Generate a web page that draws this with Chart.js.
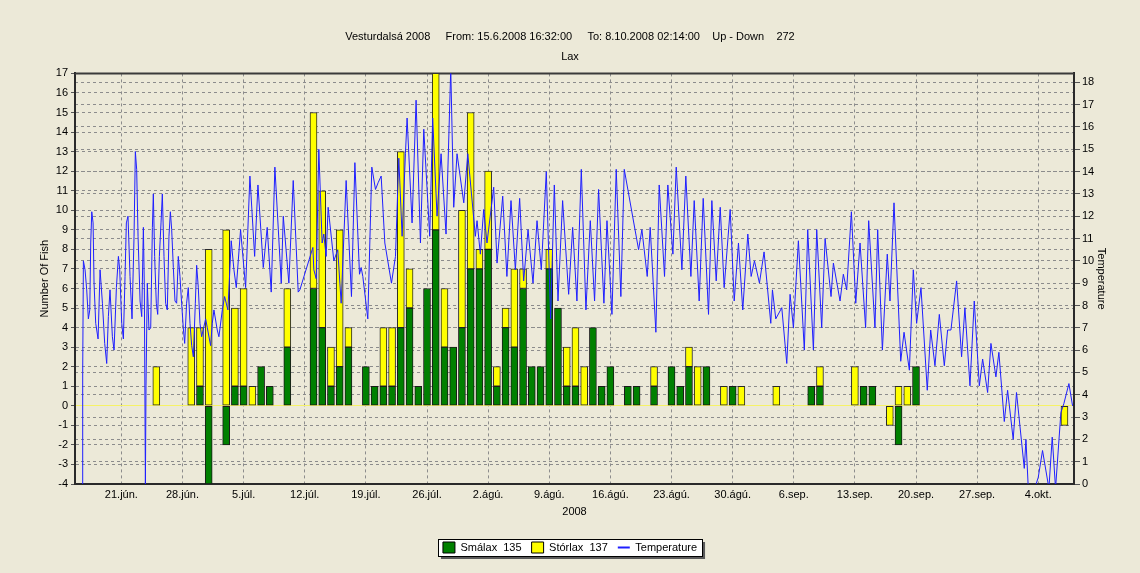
<!DOCTYPE html>
<html>
<head>
<meta charset="utf-8">
<script src="https://cdn.jsdelivr.net/npm/chart.js@4.4.1/dist/chart.umd.min.js"></script>
<style>
  html, body { margin: 0; padding: 0; background: #ece9d8; }
</style>
</head>
<body>
<canvas id="graficoLax" width="1140" height="573"></canvas>
<script>
// Veiði eftir dögum (dagur.mánuður 2008), neikvætt = niður
const fishDate = ["25.6","29.6","30.6","1.7","3.7","4.7","5.7","6.7","7.7","8.7","10.7","13.7","14.7","15.7","16.7","17.7","19.7","20.7","21.7","22.7","23.7","24.7","25.7","26.7","27.7","28.7","29.7","30.7","31.7","1.8","2.8","3.8","4.8","5.8","6.8","7.8","8.8","9.8","10.8","11.8","12.8","13.8","14.8","15.8","16.8","18.8","19.8","21.8","23.8","24.8","25.8","26.8","27.8","29.8","30.8","31.8","4.9","8.9","9.9","13.9","14.9","15.9","17.9","18.9","19.9","20.9","7.10"];
const smalax  = [0,0,1,-4,-2,1,1,0,2,1,3,6,4,1,2,3,2,1,1,1,4,5,1,6,9,3,3,4,7,7,8,1,4,3,6,2,2,7,5,1,1,0,4,1,2,1,1,1,2,1,2,0,2,0,1,0,0,1,1,0,1,1,0,-2,0,2,0];
const storlax = [2,4,3,8,9,4,5,1,0,0,3,9,7,2,7,1,0,0,3,3,9,2,0,0,8,3,0,6,8,1,4,1,1,4,1,0,0,1,0,2,3,2,0,0,0,0,0,1,0,0,1,2,0,1,0,1,1,0,1,2,0,0,-1,1,1,0,-1];

// Hitastig: dagar frá 15.6.2008 00:00 og gráður
const tempDay = [1.54,1.57,1.65,1.84,2.03,2.22,2.38,2.49,2.61,2.76,2.87,3.06,3.33,3.56,3.83,4.09,4.32,4.51,4.70,4.97,5.16,5.43,5.66,5.81,6.04,6.23,6.42,6.57,6.76,6.99,7.22,7.45,7.60,7.75,7.91,8.14,8.33,8.52,8.63,8.75,8.82,8.97,9.16,9.36,9.55,9.66,9.81,10.00,10.16,10.35,10.54,10.69,10.88,11.07,11.26,11.45,11.61,11.76,11.95,12.14,12.33,12.52,12.71,12.90,13.09,13.25,13.47,13.66,13.86,14.05,14.24,14.47,14.62,14.81,15.00,15.19,15.65,15.84,16.22,16.41,16.60,16.98,17.17,17.56,17.82,18.20,18.58,18.89,19.16,19.65,
  20.23,20.72,21.26,21.64,22.25,22.70,23.16,23.58,24.31,24.54,25.18,25.68,26.25,26.44,27.93,28.04,28.31,28.61,28.99,29.18,29.45,29.68,30.33,30.78,31.17,31.74,32.35,32.74,33.27,33.46,33.65,34.22,34.68,35.10,35.40,35.75,36.17,36.93,37.39,37.77,38.15,38.53,38.72,
  39.29,39.75,40.25,40.63,41.31,41.65,42.15,42.61,43.18,43.72,44.06,44.44,45.21,45.67,46.54,46.73,47.11,47.49,47.87,48.64,49.02,49.67,50.15,50.62,51.12,51.61,52.07,52.57,53.14,53.60,54.09,54.66,55.16,55.58,56.00,56.53,57.22,
  57.68,58.17,58.67,59.20,59.70,60.19,60.65,61.26,61.61,62.18,62.67,63.20,63.59,65.23,65.61,66.22,66.56,67.21,67.59,68.20,68.58,69.16,69.54,70.19,70.64,71.22,71.60,72.17,72.63,73.24,73.62,74.12,74.58,75.03,75.72,76.18,
  76.67,77.16,77.74,78.12,78.50,79.07,79.60,80.37,80.56,80.94,81.63,82.20,82.58,82.96,83.53,84.21,84.60,85.25,85.63,86.20,86.59,87.27,87.54,88.30,88.68,89.06,89.60,90.10,90.59,91.23,91.58,92.30,92.61,93.15,93.71,94.02,94.48,
  95.25,95.63,96.24,96.69,97.07,97.57,98.29,98.68,99.17,99.67,100.24,100.62,101.00,101.65,102.22,102.60,103.18,103.67,104.25,104.63,105.20,105.58,106.15,106.49,107.11,107.49,108.13,108.51,109.40,109.59,109.86,110.60,111.00,111.49,112.22,112.60,112.98,113.59,113.93,114.51,114.93];
const tempC = [0,5.0,10.0,9.6,8.7,7.4,7.8,10.8,12.2,11.7,9.0,7.2,6.5,9.6,8.1,6.3,5.4,7.5,8.7,6.6,6.0,8.8,10.2,9.6,7.2,6.5,9.3,11.7,12.0,9.3,7.4,11.1,14.9,14.1,11.1,8.2,7.5,11.5,8.8,0,4.4,9.0,6.9,7.0,11.5,13.0,10.2,8.1,7.6,10.2,11.7,13.0,10.2,8.1,7.8,11.1,12.2,11.4,9.7,8.2,8.1,10.2,9.3,8.1,7.0,6.3,8.1,8.8,7.2,6.2,5.7,8.1,9.8,8.8,7.2,6.6,7.4,7.0,6.2,7.2,7.8,6.9,6.6,7.8,8.4,7.8,10.9,9.6,8.8,11.4,
  8.8,13.8,10.2,13.4,9.7,11.5,8.6,14.2,9.0,12.0,9.0,13.6,8.6,8.7,10.6,9.6,9.2,15.0,10.8,11.2,10.2,12.4,10.0,10.5,8.1,13.6,8.4,14.4,9.4,9.7,9.3,7.4,14.2,13.2,13.5,13.8,10.8,9.0,10.2,14.6,11.1,14.8,16.4,
  11.7,17.2,10.8,15.9,11.1,16.4,12.0,14.8,11.2,18.6,12.4,14.8,12.6,14.8,11.1,11.8,10.3,12.3,10.8,13.3,9.9,12.9,9.3,12.7,9.6,12.8,9.1,11.4,9.0,11.8,9.6,14.0,7.4,13.4,8.2,12.7,8.5,
  11.5,8.2,14.1,7.8,11.8,8.2,13.2,8.1,11.8,7.6,14.1,8.4,14.1,10.5,11.4,9.3,11.5,6.8,13.4,9.3,13.4,10.3,14.2,9.6,13.8,9.3,12.7,8.2,12.8,7.6,12.7,9.1,12.4,8.8,12.3,8.2,
  10.8,7.8,11.2,9.3,10.0,9.0,10.4,7.2,8.7,7.4,7.9,5.4,8.5,7.0,10.9,6.0,11.4,6.0,11.4,7.0,11.0,8.4,9.9,8.2,9.4,8.7,12.2,8.1,10.8,7.0,11.8,7.0,11.4,6.0,10.3,8.2,12.6,
  5.5,6.8,5.1,9.6,7.2,8.8,4.2,6.9,5.3,7.6,5.3,6.9,6.9,9.1,5.7,7.9,4.4,8.2,4.4,5.6,4.1,6.3,4.8,5.9,2.8,4.2,2.0,4.1,0.7,2.0,-0.2,-0.2,0.3,1.5,-0.2,2.1,-0.2,3.2,3.6,4.5,3.5];

const xTickDates  = ["21.6","28.6","5.7","12.7","19.7","26.7","2.8","9.8","16.8","23.8","30.8","6.9","13.9","20.9","27.9","4.10"];
const xTickLabels = ["21.jún.","28.jún.","5.júl.","12.júl.","19.júl.","26.júl.","2.ágú.","9.ágú.","16.ágú.","23.ágú.","30.ágú.","6.sep.","13.sep.","20.sep.","27.sep.","4.okt."];

const upphaf = Date.UTC(2008, 5, 15);
function dagur(s) {
    const [d, m] = s.split(".").map(Number);
    return (Date.UTC(2008, m - 1, d) - upphaf) / 864e5;
}
const xMin = dagur("15.6") + (16 + 32 / 60) / 24;   // From: 15.6.2008 16:32
const xMax = dagur("8.10") + (2 + 14 / 60) / 24;    // To: 8.10.2008 02:14
const xTickDays = xTickDates.map(dagur);

const letur = { family: "'Liberation Sans', Arial, sans-serif", size: 11, weight: "normal" };
Chart.defaults.font = letur;
Chart.defaults.color = "#000";

const ramma = {
    id: "ramma",
    beforeDraw(chart) {
        const c = chart.ctx;
        c.save();
        c.fillStyle = "#ece9d8";
        c.fillRect(0, 0, chart.width, chart.height);
        const boxes = chart.legend && chart.legend.legendHitBoxes;
        if (boxes && boxes.length) {
            const l = Math.min(...boxes.map(b => b.left)) - 5;
            const r = Math.max(...boxes.map(b => b.left + b.width)) + 5;
            const t = boxes[0].top - 3;
            const h = boxes[0].height + 6;
            c.fillStyle = "#5a5a5a";
            c.fillRect(l + 3, t + 3, r - l, h);
            c.fillStyle = "#fff";
            c.fillRect(l, t, r - l, h);
            c.strokeStyle = "#000";
            c.lineWidth = 1;
            c.strokeRect(Math.round(l) + 0.5, Math.round(t) + 0.5, Math.round(r - l), Math.round(h));
        }
        c.restore();
    },
    beforeDatasetsDraw(chart) {
        const a = chart.chartArea, c = chart.ctx;
        c.save();
        c.strokeStyle = "#3a3a3a";
        c.lineWidth = 2;
        c.beginPath();
        c.moveTo(a.left, a.top);
        c.lineTo(a.right, a.top);
        c.stroke();
        c.restore();
    }
};

const ctx = document.getElementById("graficoLax");

new Chart(ctx, {
    data: {
        datasets: [{
            type: "bar",
            label: "Smálax  135",
            data: fishDate.map((d, i) => ({ x: dagur(d), y: smalax[i] === 0 ? null : smalax[i] })),
            backgroundColor: "#008000",
            borderColor: "#1a1a1a",
            borderWidth: 1,
            borderSkipped: false,
            barThickness: 7,
            order: 1
        }, {
            type: "bar",
            label: "Stórlax  137",
            data: fishDate.map((d, i) => ({ x: dagur(d), y: storlax[i] === 0 ? null : storlax[i] })),
            backgroundColor: "#ffff00",
            borderColor: "#2a2a2a",
            borderWidth: 1,
            borderSkipped: false,
            barThickness: 7,
            order: 1
        }, {
            type: "line",
            label: "Temperature",
            yAxisID: "y1",
            data: tempDay.map((d, i) => ({ x: d, y: tempC[i] })),
            borderColor: "#1f1fff",
            backgroundColor: "#1f1fff",
            borderWidth: 1,
            pointRadius: 0,
            tension: 0,
            order: 0
        }]
    },
    options: {
        responsive: false,
        animation: false,
        layout: { padding: { left: 0, right: 0, top: 0, bottom: 10 } },
        scales: {
            x: {
                type: "linear",
                stacked: true,
                min: xMin,
                max: xMax,
                offset: false,
                afterBuildTicks: s => { s.ticks = xTickDays.map(v => ({ value: v })); },
                afterFit: s => { s.height = 48; },
                ticks: {
                    autoSkip: false,
                    maxRotation: 0,
                    padding: 4,
                    callback: v => xTickLabels[xTickDays.indexOf(v)]
                },
                grid: { color: "#8c8c8c", drawTicks: false, offset: false },
                border: { color: "#2a2a2a", width: 2, dash: [3, 3] },
                title: { display: true, text: "2008", padding: { top: 0, bottom: 13 } }
            },
            y: {
                position: "left",
                stacked: true,
                min: -4,
                max: 17,
                afterFit: s => { s.width = 75; },
                ticks: { stepSize: 1, autoSkip: false, padding: 3 },
                grid: {
                    color: c => c.tick && c.tick.value === 0 ? "#f6f266" : "#8c8c8c",
                    tickLength: 4,
                    tickColor: "#555"
                },
                border: { color: "#2a2a2a", width: 2, dash: c => c.tick && c.tick.value === 0 ? [] : [3, 3] },
                title: { display: true, text: "Number Of Fish", padding: { top: 38, bottom: 0 } }
            },
            y1: {
                position: "right",
                stacked: false,
                min: 0,
                max: 18.4,
                afterFit: s => { s.width = 66; },
                ticks: { stepSize: 1, autoSkip: false, includeBounds: false, padding: 2 },
                grid: { color: "#8c8c8c", tickLength: 6, tickColor: "#555" },
                border: { color: "#2a2a2a", width: 2, dash: [3, 3] },
                title: { display: true, text: "Temperature", padding: { top: 32, bottom: 0 } }
            }
        },
        plugins: {
            title: {
                display: true,
                text: "Vesturdalsá 2008     From: 15.6.2008 16:32:00     To: 8.10.2008 02:14:00    Up - Down    272",
                font: letur,
                color: "#000",
                padding: { top: 30, bottom: 7 }
            },
            subtitle: {
                display: true,
                text: "Lax",
                font: letur,
                color: "#000",
                padding: { top: 0, bottom: 10 }
            },
            legend: {
                display: true,
                position: "bottom",
                labels: {
                    usePointStyle: true,
                    pointStyleWidth: 12,
                    boxHeight: 11,
                    padding: 10,
                    color: "#000",
                    font: letur,
                    generateLabels: chart => chart.data.datasets.map((ds, i) => ({
                        text: ds.label,
                        fillStyle: ds.backgroundColor,
                        strokeStyle: ds.type === "line" ? ds.borderColor : "#000",
                        lineWidth: ds.type === "line" ? 2 : 1,
                        pointStyle: ds.type === "line" ? "line" : "rect",
                        datasetIndex: i,
                        hidden: false
                    }))
                }
            },
            tooltip: { enabled: false }
        }
    },
    plugins: [ramma]
});
</script>
</body>
</html>
